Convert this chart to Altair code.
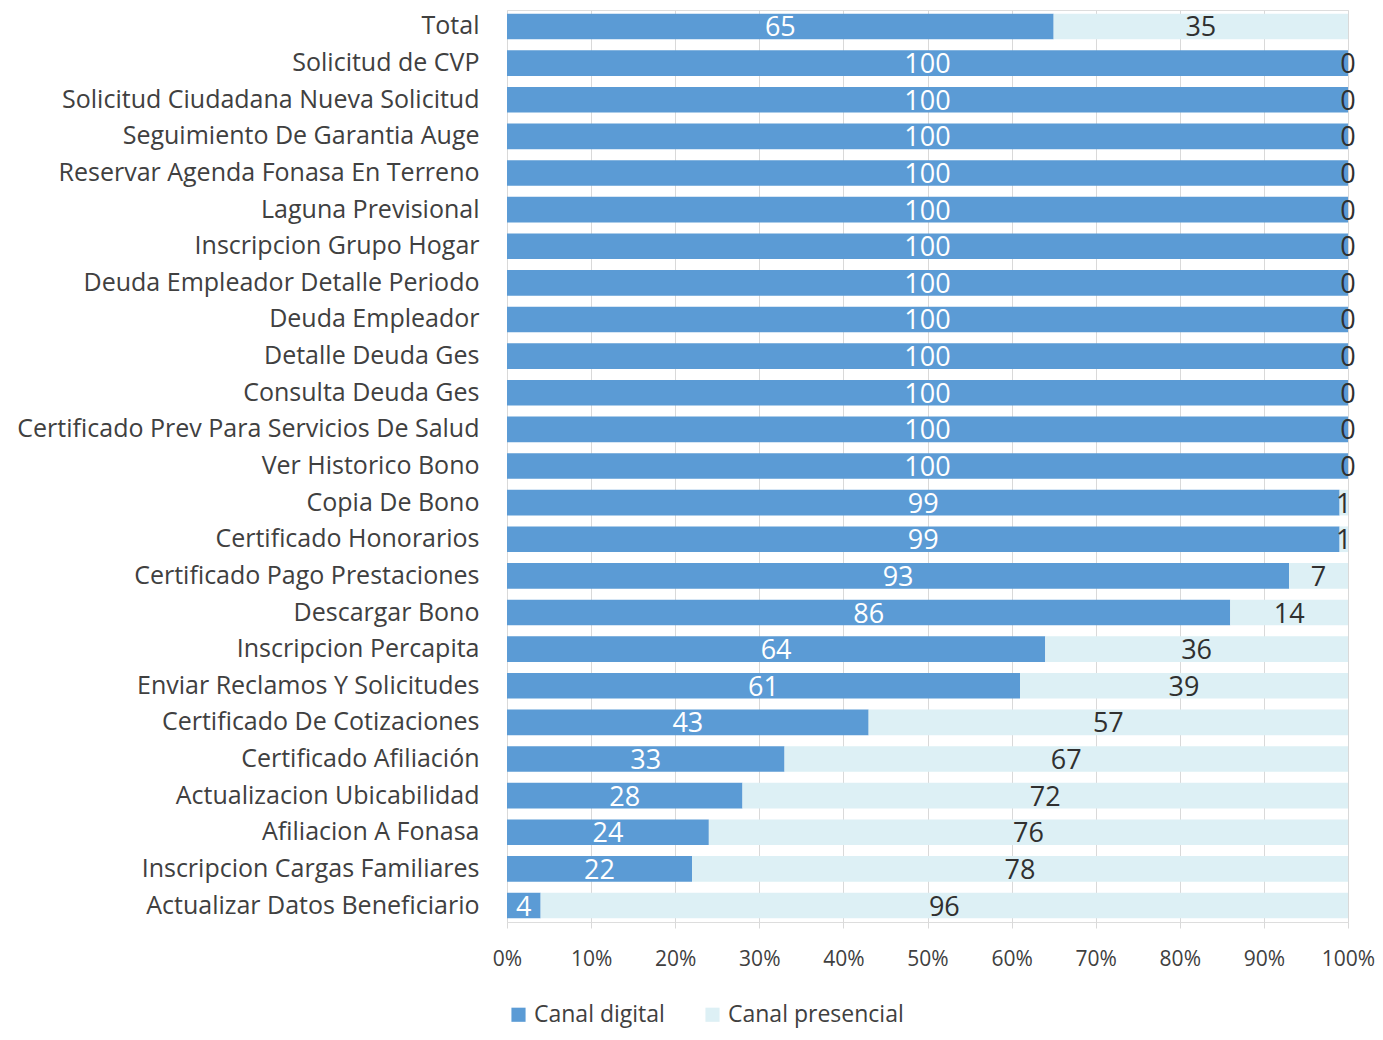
import altair as alt
import pandas as pd

categories = [
    "Total", "Solicitud de CVP", "Solicitud Ciudadana Nueva Solicitud",
    "Seguimiento De Garantia Auge", "Reservar Agenda Fonasa En Terreno",
    "Laguna Previsional", "Inscripcion Grupo Hogar", "Deuda Empleador Detalle Periodo",
    "Deuda Empleador", "Detalle Deuda Ges", "Consulta Deuda Ges",
    "Certificado Prev Para Servicios De Salud", "Ver Historico Bono", "Copia De Bono",
    "Certificado Honorarios", "Certificado Pago Prestaciones", "Descargar Bono",
    "Inscripcion Percapita", "Enviar Reclamos Y Solicitudes", "Certificado De Cotizaciones",
    "Certificado Afiliación", "Actualizacion Ubicabilidad", "Afiliacion A Fonasa",
    "Inscripcion Cargas Familiares", "Actualizar Datos Beneficiario",
]
digital = [65, 100, 100, 100, 100, 100, 100, 100, 100, 100, 100, 100, 100, 99, 99,
           93, 86, 64, 61, 43, 33, 28, 24, 22, 4]
presencial = [35, 0, 0, 0, 0, 0, 0, 0, 0, 0, 0, 0, 0, 1, 1,
              7, 14, 36, 39, 57, 67, 72, 76, 78, 96]
series = ["Canal digital", "Canal presencial"]
colors = ["#5B9BD5", "#DDF0F5"]

rows = []
for c, d, p in zip(categories, digital, presencial):
    rows.append({"cat": c, "serie": series[0], "val": d, "start": 0, "end": d,
                 "mid": d / 2, "tcol": "w"})
    rows.append({"cat": c, "serie": series[1], "val": p, "start": d, "end": d + p,
                 "mid": d + p / 2, "tcol": "d"})
df = pd.DataFrame(rows)

FONT = "Open Sans"

y_enc = alt.Y("cat:N", sort=categories, title=None,
              scale=alt.Scale(paddingInner=0.3, paddingOuter=0.1),
              axis=alt.Axis(labelFontSize=25, labelColor="#404040", labelFont=FONT,
                            labelLimit=700, labelPadding=28, ticks=False, domain=False))

bars = alt.Chart(df).mark_bar().encode(
    x=alt.X("start:Q", scale=alt.Scale(domain=[0, 100], nice=False), title=None,
            axis=alt.Axis(values=list(range(0, 101, 10)), labelExpr="datum.value + '%'",
                          labelFontSize=21, labelColor="#404040", labelFont=FONT,
                          labelFlush=False, labelOverlap=False,
                          grid=True, gridColor="#D9D9D9", domain=False,
                          tickColor="#D9D9D9", tickSize=6, labelPadding=20)),
    x2="end:Q",
    y=y_enc,
    color=alt.Color("serie:N", scale=alt.Scale(domain=series, range=colors),
                    legend=alt.Legend(orient="bottom", title=None, labelFontSize=23,
                                      labelFont=FONT, labelColor="#404040", labelLimit=400,
                                      symbolType="square", symbolSize=200,
                                      symbolStrokeWidth=0, columnPadding=36,
                                      offset=34)),
)

text = alt.Chart(df).mark_text(fontSize=27, font=FONT, baseline="middle", dy=2).encode(
    x="mid:Q",
    y=alt.Y("cat:N", sort=categories),
    text="val:Q",
    color=alt.Color("tcol:N", scale=alt.Scale(domain=["w", "d"], range=["#FFFFFF", "#303030"]),
                    legend=None),
)

chart = alt.layer(bars, text).resolve_scale(color="independent").properties(
    width=841, height=912,
    padding={"left": 8, "top": 2, "right": 0, "bottom": 6},
).configure_view(stroke=None).configure(background="#FFFFFF")

chart.save("out.html", embed_options={"renderer": "svg", "actions": False})
